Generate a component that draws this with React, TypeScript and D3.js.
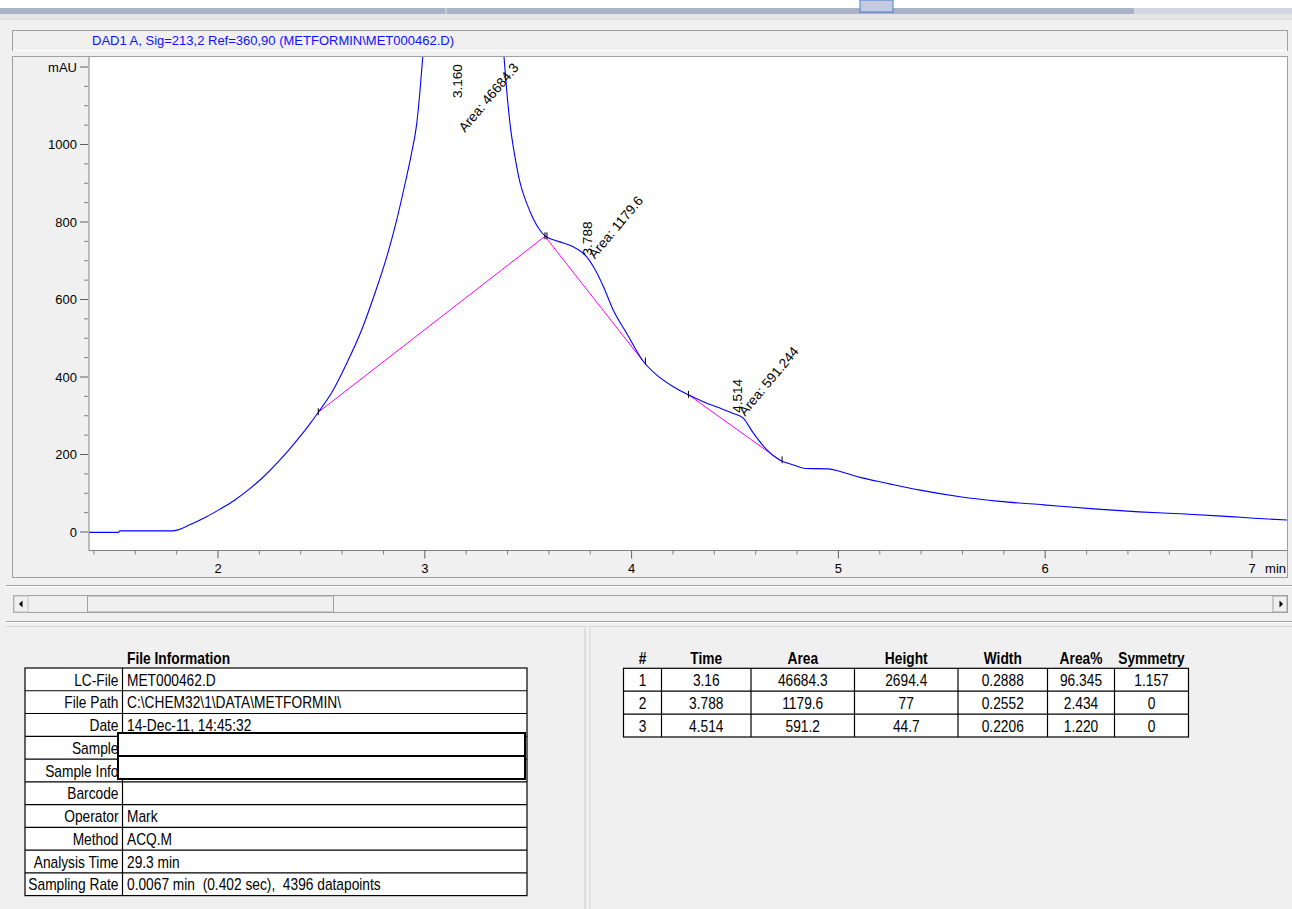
import React from "react";
import * as d3 from "d3";

// ---- Chromatogram data (DAD1 A, Sig=213,2 Ref=360,90) ----
const timeMin = [
  1.376, 1.52, 1.525, 1.778, 1.869, 1.94, 2.01, 2.08, 2.145, 2.215, 2.284, 2.34, 2.396, 2.44,
  2.485, 2.55, 2.622, 2.695, 2.76, 2.816, 2.864, 2.905, 2.935, 2.961, 2.977, 2.99, 3.04, 3.1,
  3.16, 3.22, 3.28, 3.33, 3.383, 3.396, 3.412, 3.436, 3.46, 3.493, 3.525, 3.553, 3.581, 3.621, 3.67,
  3.718, 3.76, 3.783, 3.815, 3.864, 3.911, 3.976, 4.057, 4.122, 4.202, 4.275, 4.347, 4.42,
  4.492, 4.541, 4.589, 4.654, 4.718, 4.783, 4.838, 4.951, 5.008, 5.104, 5.233, 5.395, 5.588,
  5.781, 5.991, 6.252, 6.453, 6.654, 6.855, 7.057, 7.17,
];
const signalMAU = [
  -1, -1, 3, 3, 20, 38, 59, 82, 108, 140, 177, 210, 246, 276,
  309, 360, 435, 522, 618, 710, 805, 900, 975, 1054, 1140, 1226, 1650, 2500,
  3280, 2550, 1800, 1450, 1226, 1140, 1054, 968, 903, 848, 808, 782, 764, 754, 746,
  736, 722, 710, 685, 633, 573, 513, 440, 405, 375, 354, 336, 321,
  306, 293, 255, 212, 185, 173, 164, 163, 156, 141, 126, 108, 91,
  79, 70, 59, 52, 47, 41, 34, 31,
];

// integration baselines
const baseStartT = [2.485, 3.581, 4.275];
const baseStartV = [309, 763, 354];
const baseEndT = [3.581, 4.057, 4.718];
const baseEndV = [763, 440, 185];

// peak annotations
const peakRT = [3.16, 3.788, 4.514];
const peakRTLabel = ["3.160", "3.788", "4.514"];
const peakAreaLabel = ["Area: 46684.3", "Area: 1179.6", "Area: 591.244"];

// axes
const xTicks = [2, 3, 4, 5, 6, 7];
const yTicks = [0, 200, 400, 600, 800, 1000];
const yUnitTick = 1200;

// title
const signalTitle = "DAD1 A, Sig=213,2 Ref=360,90 (METFORMIN\\MET000462.D)";

// file information
const fileInfoTitle = "File Information";
const fileInfoLabels = ["LC-File", "File Path", "Date", "Sample", "Sample Info", "Barcode", "Operator", "Method", "Analysis Time", "Sampling Rate"];
const fileInfoValues = ["MET000462.D", "C:\\CHEM32\\1\\DATA\\METFORMIN\\", "14-Dec-11, 14:45:32", "", "", "", "Mark", "ACQ.M", "29.3 min", "0.0067 min  (0.402 sec),  4396 datapoints"];

// peak table
const tableHeaders = ["#", "Time", "Area", "Height", "Width", "Area%", "Symmetry"];
const peakNo = ["1", "2", "3"];
const peakTime = ["3.16", "3.788", "4.514"];
const peakArea = ["46684.3", "1179.6", "591.2"];
const peakHeight = ["2694.4", "77", "44.7"];
const peakWidth = ["0.2888", "0.2552", "0.2206"];
const peakAreaPct = ["96.345", "2.434", "1.220"];
const peakSymmetry = ["1.157", "0", "0"];

const AX_FONT = "'Liberation Sans', Arial, sans-serif";

function NT(props: { x: number; y: number; anchor?: string; bold?: boolean; children: React.ReactNode }) {
  const { x, y, anchor, bold, children } = props;
  return (
    <text
      transform={`translate(${x},${y}) scale(0.86,1)`}
      textAnchor={anchor || "start"}
      fontFamily={AX_FONT}
      fontSize={16}
      fontWeight={bold ? "bold" : "normal"}
      fill="#000"
      style={{ whiteSpace: "pre" }}
    >
      {children}
    </text>
  );
}

export default function App() {
  const W = 1292, H = 909;
  const plot = { left: 89, right: 1287, top: 57, bottom: 550.5 };
  const x = d3.scaleLinear().domain([2, 7]).range([218, 1252]);
  const y = d3.scaleLinear().domain([0, 1200]).range([532, 67]);

  const pts: [number, number][] = timeMin.map((t, i) => [t, signalMAU[i]]);
  const line = d3.line<[number, number]>().x(d => x(d[0])).y(d => y(d[1])).curve(d3.curveMonotoneX);

  const interp = (t: number) => {
    const i = d3.bisector((d: number) => d).left(timeMin, t);
    if (i <= 0) return signalMAU[0];
    if (i >= timeMin.length) return signalMAU[signalMAU.length - 1];
    const t0 = timeMin[i - 1], t1 = timeMin[i];
    const f = (t - t0) / (t1 - t0);
    return signalMAU[i - 1] + f * (signalMAU[i] - signalMAU[i - 1]);
  };

  const xMinor = d3.range(7, 36).map(k => k / 5).filter(v => Math.abs(v - Math.round(v)) > 1e-6);
  const yMinor = d3.range(0, 25).map(k => k * 50).filter(v => v % 200 !== 0);

  // file info table geometry
  const fiLeft = 25, fiMid = 122.5, fiRight = 527, fiTop = 668, fiRowH = 22.76;
  // peak table geometry
  const ptCols = [623.5, 661.5, 751, 854.5, 958, 1047.5, 1114.5, 1188.5];
  const ptTop = 668.3, ptRowH = 22.9;
  const ptRows = peakNo.map((n, i) => [n, peakTime[i], peakArea[i], peakHeight[i], peakWidth[i], peakAreaPct[i], peakSymmetry[i]]);

  return (
    <svg width={W} height={H} style={{ position: "absolute", left: 0, top: 0, display: "block" }}>
      {/* window background */}
      <rect x={0} y={0} width={W} height={H} fill="#f0f0f0" />
      <rect x={0} y={0} width={W} height={8} fill="#ffffff" />
      <rect x={0} y={8} width={1134} height={6} fill="#abb1c6" />
      <rect x={1134} y={8} width={158} height={7} fill="#d0d5e1" />
      <rect x={860} y={0} width={33} height={12} fill="#c4cbe0" stroke="#4a7fd0" strokeWidth={1} />
      <line x1={446} x2={446} y1={8} y2={15} stroke="#e0e0e0" />
      <rect x={0} y={14} width={W} height={4} fill="#e6e6e6" />
      <line x1={0} x2={W} y1={19} y2={19} stroke="#d0d0d0" />

      {/* title bar */}
      <rect x={12.5} y={30.5} width={1275} height={20} fill="#f0f0f0" stroke="#a0a0a0" />
      <line x1={13} x2={1287} y1={50.5} y2={50.5} stroke="#ffffff" />
      <text x={92} y={45} fontFamily={AX_FONT} fontSize={13} fill="#1010ff">{signalTitle}</text>

      {/* plot frame */}
      <rect x={12.5} y={56.5} width={1275} height={521} fill="#f0f0f0" stroke="#a0a0a0" />
      <rect x={plot.left} y={plot.top} width={plot.right - plot.left} height={plot.bottom - plot.top} fill="#ffffff" />

      <defs>
        <clipPath id="plotClip">
          <rect x={plot.left} y={plot.top} width={plot.right - plot.left} height={plot.bottom - plot.top} />
        </clipPath>
      </defs>

      <g clipPath="url(#plotClip)">
        {/* baselines */}
        {baseStartT.map((t, i) => (
          <line key={"b" + i} x1={x(t)} y1={y(baseStartV[i])} x2={x(baseEndT[i])} y2={y(baseEndV[i])} stroke="#ff00ff" strokeWidth={1} />
        ))}
        {/* signal */}
        <path d={line(pts) || ""} fill="none" stroke="#0000ff" strokeWidth={1.1} />
        {/* integration tick marks */}
        {baseStartT.map((t, i) => (
          <g key={"tk" + i}>
            <line x1={x(t)} x2={x(t)} y1={y(baseStartV[i]) - 4} y2={y(baseStartV[i]) + 3} stroke="#000" strokeWidth={1} />
            <line x1={x(baseEndT[i]) + 2} x2={x(baseEndT[i]) + 2} y1={y(baseEndV[i]) - 4} y2={y(baseEndV[i]) + 3} stroke="#000" strokeWidth={1} />
          </g>
        ))}
      </g>

      {/* peak labels */}
      {peakRT.map((rt, i) => {
        const px = x(rt) + 4;
        const py = Math.max(y(interp(rt)) - 3, 98);
        const ay = Math.max(py + 4, 133);
        const ax = px + 3;
        return (
          <g key={"pl" + i} fontFamily={AX_FONT} fontSize={13.5} fill="#000">
            <text transform={`translate(${px},${py}) rotate(-90)`}>{peakRTLabel[i]}</text>
            <text transform={`translate(${ax},${ay}) rotate(-50)`}>{peakAreaLabel[i]}</text>
          </g>
        );
      })}

      {/* y axis */}
      <line x1={plot.left} x2={plot.left} y1={plot.top} y2={plot.bottom} stroke="#808080" />
      {yMinor.map(v => (
        <line key={"ym" + v} x1={84} x2={88} y1={y(v)} y2={y(v)} stroke="#808080" />
      ))}
      {yTicks.map(v => (
        <g key={"yt" + v}>
          <line x1={80} x2={88} y1={y(v)} y2={y(v)} stroke="#606060" />
          <text x={77} y={y(v) + 4.5} textAnchor="end" fontFamily={AX_FONT} fontSize={13} fill="#000">{v}</text>
        </g>
      ))}
      <line x1={80} x2={88} y1={y(yUnitTick)} y2={y(yUnitTick)} stroke="#606060" />
      <text x={77} y={y(yUnitTick) + 4.5} textAnchor="end" fontFamily={AX_FONT} fontSize={13} fill="#000">mAU</text>

      {/* x axis */}
      <line x1={plot.left} x2={plot.right} y1={plot.bottom} y2={plot.bottom} stroke="#808080" />
      {xMinor.map(v => (
        <line key={"xm" + v} x1={x(v)} x2={x(v)} y1={plot.bottom} y2={plot.bottom + 4} stroke="#808080" />
      ))}
      {xTicks.map(v => (
        <g key={"xt" + v}>
          <line x1={x(v)} x2={x(v)} y1={plot.bottom} y2={plot.bottom + 8} stroke="#606060" />
          <text x={x(v)} y={573} textAnchor="middle" fontFamily={AX_FONT} fontSize={13} fill="#000">{v}</text>
        </g>
      ))}
      <text x={1286} y={573} textAnchor="end" fontFamily={AX_FONT} fontSize={13} fill="#000">min</text>

      {/* separators & scrollbar */}
      <line x1={6} x2={W} y1={585.5} y2={585.5} stroke="#a0a0a0" />
      <line x1={6} x2={W} y1={586.5} y2={586.5} stroke="#ffffff" />
      <rect x={13.5} y={595.5} width={1274} height={17} fill="#f0f0f0" stroke="#a0a0a0" />
      <rect x={14} y={596} width={14} height={16} fill="#f0f0f0" stroke="#c0c0c0" />
      <path d="M 22.5 600.5 L 19 604 L 22.5 607.5 Z" fill="#000" />
      <rect x={87.5} y={596} width={246} height={16} fill="#f0f0f0" stroke="#a0a0a0" />
      <rect x={1273} y={596} width={14} height={16} fill="#f0f0f0" stroke="#a0a0a0" />
      <path d="M 1279.5 600.5 L 1283 604 L 1279.5 607.5 Z" fill="#000" />
      <line x1={6} x2={W} y1={621.5} y2={621.5} stroke="#a0a0a0" />
      <line x1={6} x2={W} y1={622.5} y2={622.5} stroke="#ffffff" />
      <line x1={6} x2={W} y1={626.5} y2={626.5} stroke="#d8d8d8" />
      <line x1={585} x2={585} y1={628} y2={H} stroke="#c8c8c8" />
      <line x1={590} x2={590} y1={628} y2={H} stroke="#d4d4d4" />

      {/* File information table */}
      <NT x={127} y={664} bold>{fileInfoTitle}</NT>
      <rect x={fiLeft} y={fiTop} width={fiRight - fiLeft} height={fiRowH * fileInfoLabels.length} fill="#ffffff" stroke="#000" strokeWidth={1.2} />
      <line x1={fiMid} x2={fiMid} y1={fiTop} y2={fiTop + fiRowH * fileInfoLabels.length} stroke="#000" strokeWidth={1.2} />
      {fileInfoLabels.map((lab, i) => (
        <g key={"fi" + i}>
          {i > 0 && <line x1={fiLeft} x2={fiRight} y1={fiTop + i * fiRowH} y2={fiTop + i * fiRowH} stroke="#000" strokeWidth={1.2} />}
          <NT x={118.5} y={fiTop + i * fiRowH + 17.5} anchor="end">{lab}</NT>
          <NT x={127} y={fiTop + i * fiRowH + 17.5}>{fileInfoValues[i]}</NT>
        </g>
      ))}
      {/* redaction boxes */}
      <rect x={118} y={733} width={407} height={23} fill="#ffffff" stroke="#000" strokeWidth={2} />
      <rect x={118} y={756} width={407} height={23} fill="#ffffff" stroke="#000" strokeWidth={2} />

      {/* Peak table */}
      {tableHeaders.map((h, j) => (
        <NT key={"th" + j} x={(ptCols[j] + ptCols[j + 1]) / 2} y={664} anchor="middle" bold>{h}</NT>
      ))}
      <rect x={ptCols[0]} y={ptTop} width={ptCols[7] - ptCols[0]} height={ptRowH * ptRows.length} fill="#ffffff" stroke="#000" strokeWidth={1.2} />
      {ptCols.slice(1, 7).map((c, j) => (
        <line key={"pc" + j} x1={c} x2={c} y1={ptTop} y2={ptTop + ptRowH * ptRows.length} stroke="#000" strokeWidth={1.2} />
      ))}
      {ptRows.map((row, i) => (
        <g key={"pr" + i}>
          {i > 0 && <line x1={ptCols[0]} x2={ptCols[7]} y1={ptTop + i * ptRowH} y2={ptTop + i * ptRowH} stroke="#000" strokeWidth={1.2} />}
          {row.map((cell, j) => (
            <NT key={"c" + j} x={(ptCols[j] + ptCols[j + 1]) / 2} y={ptTop + i * ptRowH + 17.5} anchor="middle">{cell}</NT>
          ))}
        </g>
      ))}
    </svg>
  );
}
